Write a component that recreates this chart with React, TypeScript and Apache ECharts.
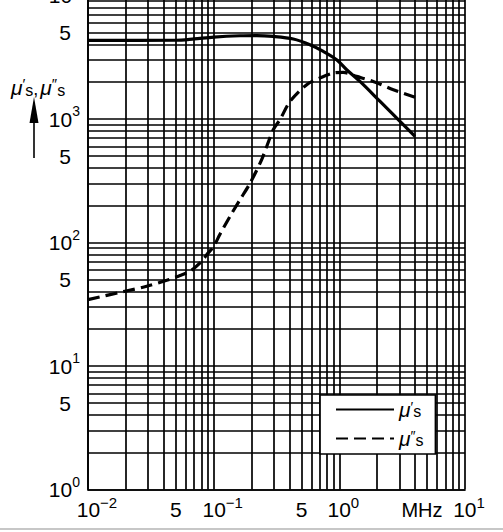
import { useEffect, useRef } from 'react'
import * as echarts from 'echarts'

const FONT = "'Liberation Sans Narrow', 'Arial Narrow', 'Liberation Sans', Arial, sans-serif"

// mu's (solid) and mu''s (dashed) against frequency in MHz
const freqReal = [0.01, 0.05, 0.07, 0.1, 0.162, 0.22, 0.298, 0.43, 0.584, 0.745, 0.952, 1.144, 1.46, 2.11, 3.04, 4.0]
const muReal = [4330, 4340, 4450, 4600, 4720, 4740, 4660, 4440, 3990, 3525, 3020, 2506, 2015, 1387, 957, 723]

const freqImag = [0.01, 0.0197, 0.0293, 0.0423, 0.054, 0.0648, 0.0779, 0.0906, 0.1, 0.112, 0.135, 0.162, 0.195, 0.241, 0.298, 0.337, 0.405, 0.55, 0.7, 0.895, 1.075, 1.37, 1.86, 2.69, 4.0]
const muImag = [34.5, 40.3, 44.2, 49.4, 54, 58.5, 68.4, 82.4, 93, 116, 163, 222, 303, 469, 819, 987, 1387, 1896, 2148, 2356, 2384, 2213, 2015, 1726, 1500]

const seriesNames = ["μ's", "μ''s"]

// tick labels (the unit "MHz" sits where 5 MHz would be labelled)
const xLabelValues = [0.01, 0.05, 0.1, 0.5, 1, 10]
const xLabelTexts = ['{bw|10}{sx|−2}', '{b|5}', '{bw|10}{sx|−1}', '{b|5}', '{bn|10}{sx|0}', '{bn|10}{sx|1}']
const xUnit = 'MHz'
const yLabelValues = [1, 5, 10, 50, 100, 500, 1000, 5000, 10000]
const yLabelTexts = ['{b|10}{s|0}', '{f|5}', '{b|10}{s|1}', '{f|5}', '{b|10}{s|2}', '{f|5}', '{b|10}{s|3}', '{f|5}', '{b|10}{s|4}']

// log grid: 1..9 in every decade
const gridSteps = [1, 2, 3, 4, 5, 6, 7, 8, 9]
const xDecades = [0.01, 0.1, 1]
const yDecades = [1, 10, 100, 1000]
const xGrid = xDecades.flatMap((d) => gridSteps.map((s) => d * s)).concat([10])
const yGrid = yDecades.flatMap((d) => gridSteps.map((s) => d * s)).concat([10000])

function pickLabel(v: number, values: number[], texts: string[]) {
  const i = values.findIndex((lv) => Math.abs(Math.log10(v) - Math.log10(lv)) < 1e-6)
  return i >= 0 ? texts[i] : ''
}

// page y -> chart y (the chart div starts 20px above the page)
const OY = 20

export default function App() {
  const chartRef = useRef<HTMLDivElement>(null)

  useEffect(() => {
    if (!chartRef.current) return
    const chart = echarts.init(chartRef.current, null, { renderer: 'svg' })

    const gridLine = { show: true, lineStyle: { color: '#000', width: 1.7 } }

    chart.setOption({
      animation: false,
      backgroundColor: '#fff',
      grid: { left: 88, right: 38, top: 15.5, bottom: 42.5, containLabel: false, outerBoundsMode: 'none' },
      xAxis: {
        type: 'log',
        logBase: 10,
        min: 0.01,
        max: 10,
        axisLine: { show: true, lineStyle: { color: '#000', width: 1.7 } },
        axisTick: { show: false, customValues: xGrid },
        splitLine: gridLine,
        axisLabel: {
          customValues: xLabelValues,
          showMinLabel: true,
          showMaxLabel: true,
          hideOverlap: false,
          margin: 5,
          color: '#000',
          fontFamily: FONT,
          formatter: (v: number) => pickLabel(v, xLabelValues, xLabelTexts),
          rich: {
            b: { fontFamily: FONT, fontSize: 21, lineHeight: 30, color: '#000' },
            bw: { fontFamily: FONT, fontSize: 21, lineHeight: 30, color: '#000', padding: [0, 0, 0, 18] },
            bn: { fontFamily: FONT, fontSize: 21, lineHeight: 30, color: '#000', padding: [0, 0, 0, 8] },
            sx: { fontFamily: FONT, fontSize: 15, lineHeight: 15, color: '#000', verticalAlign: 'top' },
          },
        },
      },
      yAxis: {
        type: 'log',
        logBase: 10,
        min: 1,
        max: 10000,
        axisLine: { show: true, lineStyle: { color: '#000', width: 1.7 } },
        axisTick: { show: false, customValues: yGrid },
        splitLine: gridLine,
        axisLabel: {
          customValues: yLabelValues,
          showMinLabel: true,
          showMaxLabel: true,
          hideOverlap: false,
          margin: 8,
          color: '#000',
          fontFamily: FONT,
          formatter: (v: number) => pickLabel(v, yLabelValues, yLabelTexts),
          rich: {
            b: { fontFamily: FONT, fontSize: 21, lineHeight: 30, color: '#000' },
            f: { fontFamily: FONT, fontSize: 21, lineHeight: 30, color: '#000', padding: [0, 9, 0, 0] },
            s: { fontFamily: FONT, fontSize: 14, lineHeight: 14, color: '#000', verticalAlign: 'top' },
          },
        },
      },
      legend: {
        orient: 'vertical',
        left: 320,
        top: 395 + OY,
        data: seriesNames,
        selectedMode: false,
        backgroundColor: '#fff',
        borderColor: '#000',
        borderWidth: 1.7,
        borderRadius: 0,
        padding: [4, 12, 5, 15],
        itemWidth: 58,
        itemHeight: 20,
        itemGap: 8,
        itemStyle: { opacity: 0 },
        formatter: (name: string) => (name === seriesNames[0] ? '{m|μ}{p|′}{s|s}' : '{m|μ}{p|″}{s|s}'),
        textStyle: {
          fontFamily: FONT,
          color: '#000',
          rich: {
            m: { fontFamily: FONT, fontSize: 21, fontStyle: 'italic', lineHeight: 20, color: '#000' },
            p: { fontFamily: FONT, fontSize: 14, lineHeight: 14, color: '#000', verticalAlign: 'top' },
            s: { fontFamily: FONT, fontSize: 16, lineHeight: 16, color: '#000', verticalAlign: 'bottom' },
          },
        },
      },
      series: [
        {
          name: seriesNames[0],
          type: 'line',
          symbol: 'none',
          smooth: 0.3,
          data: freqReal.map((f, i) => [f, muReal[i]]),
          lineStyle: { color: '#000', width: 3.2, type: 'solid' },
          itemStyle: { color: '#000' },
          z: 3,
        },
        {
          name: seriesNames[1],
          type: 'line',
          symbol: 'none',
          smooth: 0.3,
          data: freqImag.map((f, i) => [f, muImag[i]]),
          lineStyle: { color: '#000', width: 3.2, type: [12, 6], cap: 'butt' },
          itemStyle: { color: '#000' },
          z: 3,
        },
      ],
      graphic: [
        // unit of the frequency axis
        {
          type: 'text',
          x: 422,
          y: 510 + OY,
          style: {
            text: xUnit,
            fontFamily: FONT,
            fontSize: 20,
            fill: '#000',
            align: 'center',
            verticalAlign: 'middle',
          },
        },
        // axis title  mu's, mu''s  with the up arrow
        {
          type: 'text',
          x: 11,
          y: 87 + OY,
          style: {
            text: '{m|μ}{p|′}{s|s}{c|,}{m|μ}{p|″}{s|s}',
            verticalAlign: 'middle',
            fill: '#000',
            rich: {
              m: { fontFamily: FONT, fontSize: 21, fontStyle: 'italic', lineHeight: 22, fill: '#000' },
              p: { fontFamily: FONT, fontSize: 15, lineHeight: 14, fill: '#000', verticalAlign: 'top' },
              s: { fontFamily: FONT, fontSize: 16, lineHeight: 16, fill: '#000', verticalAlign: 'bottom' },
              c: { fontFamily: FONT, fontSize: 18, lineHeight: 18, fill: '#000', verticalAlign: 'bottom', padding: [0, 2, 0, 0] },
            },
          },
        },
        {
          type: 'polygon',
          shape: { points: [[34, 97 + OY], [29.5, 123 + OY], [38.5, 123 + OY]] },
          style: { fill: '#000' },
        },
        {
          type: 'line',
          shape: { x1: 34, y1: 120 + OY, x2: 34, y2: 158 + OY },
          style: { stroke: '#000', lineWidth: 1.6 },
        },
        {
          type: 'line',
          shape: { x1: 0, y1: 529 + OY, x2: 503, y2: 529 + OY },
          style: { stroke: '#b4b4b4', lineWidth: 1.5 },
        },
      ],
    })

    return () => {
      chart.dispose()
    }
  }, [])

  return (
    <div
      ref={chartRef}
      style={{ position: 'absolute', left: 0, top: -OY, width: 503, height: 552 }}
    />
  )
}
